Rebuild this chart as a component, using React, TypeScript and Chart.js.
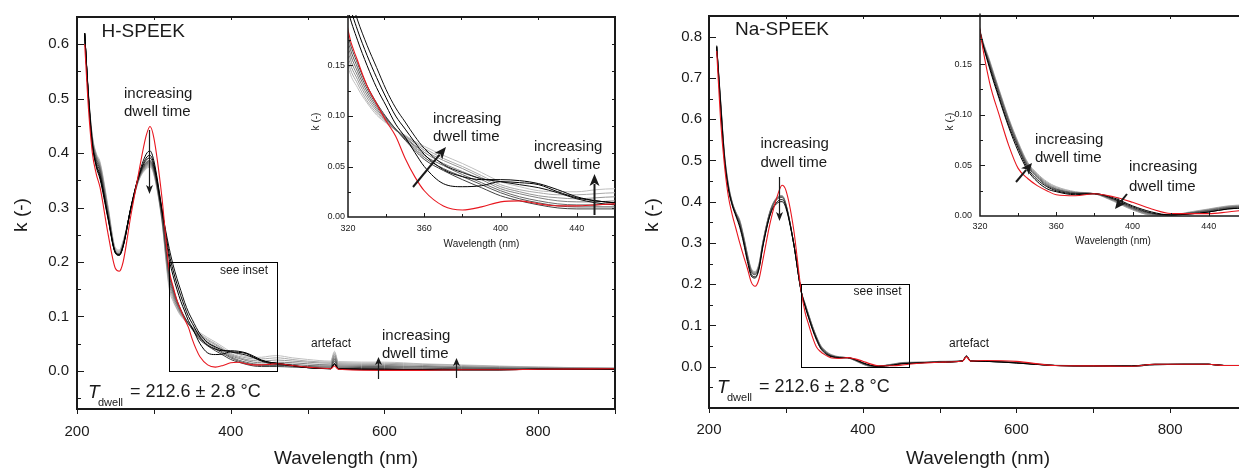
import React, { useEffect, useRef } from 'react';
import { Chart, registerables } from 'chart.js';
Chart.register(...registerables);

const FONT = "'Liberation Sans', Arial, Helvetica, sans-serif";
const INK = '#1a1a1a';
const RED = '#e8161e';

// ---------------- H-SPEEK (left panel) ----------------
const wavelengthH = [210, 215, 220, 225, 230, 240, 250, 255, 260, 270, 280, 290, 295, 300, 310, 320, 325, 330, 335, 340, 345, 350, 355, 360, 370, 380, 390, 400, 410, 420, 430, 440, 450, 460, 480, 500, 530, 535, 540, 600, 650, 700, 750, 800, 900];
const redH = [0.600, 0.480, 0.400, 0.362, 0.337, 0.255, 0.188, 0.183, 0.200, 0.285, 0.362, 0.432, 0.449, 0.428, 0.325, 0.185, 0.155, 0.130, 0.112, 0.095, 0.080, 0.058, 0.040, 0.026, 0.011, 0.007, 0.010, 0.015, 0.016, 0.013, 0.011, 0.011, 0.012, 0.013, 0.010, 0.007, 0.004, 0.009, 0.003, 0.001, 0.001, 0.002, 0.002, 0.003, 0.004];
const black1H = [0.620, 0.500, 0.415, 0.375, 0.352, 0.282, 0.216, 0.212, 0.228, 0.298, 0.358, 0.398, 0.404, 0.386, 0.302, 0.205, 0.175, 0.150, 0.128, 0.110, 0.092, 0.079, 0.064, 0.050, 0.033, 0.030, 0.031, 0.035, 0.034, 0.032, 0.025, 0.019, 0.016, 0.014, 0.010, 0.006, 0.004, 0.012, 0.003, 0.002, 0.002, 0.002, 0.002, 0.003, 0.003];
const black2H = [0.620, 0.500, 0.416, 0.378, 0.356, 0.284, 0.217, 0.213, 0.229, 0.299, 0.356, 0.391, 0.396, 0.380, 0.300, 0.215, 0.185, 0.160, 0.138, 0.118, 0.100, 0.087, 0.074, 0.062, 0.047, 0.040, 0.037, 0.037, 0.036, 0.033, 0.027, 0.020, 0.016, 0.014, 0.010, 0.006, 0.004, 0.013, 0.004, 0.003, 0.002, 0.002, 0.002, 0.003, 0.003];
const black3H = [0.620, 0.500, 0.417, 0.380, 0.360, 0.286, 0.218, 0.214, 0.230, 0.300, 0.355, 0.387, 0.391, 0.376, 0.298, 0.225, 0.195, 0.170, 0.148, 0.126, 0.108, 0.094, 0.080, 0.068, 0.052, 0.044, 0.038, 0.035, 0.032, 0.029, 0.024, 0.018, 0.014, 0.012, 0.009, 0.006, 0.004, 0.014, 0.004, 0.003, 0.002, 0.002, 0.002, 0.003, 0.003];
const grey1H = [0.620, 0.502, 0.420, 0.385, 0.365, 0.288, 0.217, 0.213, 0.230, 0.298, 0.354, 0.383, 0.386, 0.372, 0.292, 0.180, 0.152, 0.130, 0.113, 0.099, 0.087, 0.076, 0.066, 0.057, 0.046, 0.037, 0.029, 0.021, 0.016, 0.012, 0.009, 0.008, 0.008, 0.008, 0.007, 0.006, 0.005, 0.018, 0.005, 0.004, 0.003, 0.003, 0.003, 0.003, 0.003];
const grey2H = [0.620, 0.503, 0.422, 0.388, 0.369, 0.291, 0.218, 0.214, 0.231, 0.298, 0.353, 0.381, 0.384, 0.370, 0.290, 0.175, 0.148, 0.127, 0.111, 0.098, 0.087, 0.077, 0.068, 0.059, 0.048, 0.040, 0.032, 0.024, 0.018, 0.014, 0.011, 0.010, 0.010, 0.010, 0.009, 0.008, 0.007, 0.021, 0.007, 0.006, 0.005, 0.004, 0.004, 0.004, 0.003];
const grey3H = [0.620, 0.504, 0.424, 0.391, 0.372, 0.294, 0.219, 0.215, 0.232, 0.297, 0.352, 0.379, 0.382, 0.368, 0.288, 0.170, 0.144, 0.124, 0.109, 0.097, 0.087, 0.078, 0.070, 0.061, 0.051, 0.042, 0.034, 0.026, 0.020, 0.016, 0.013, 0.012, 0.012, 0.013, 0.012, 0.010, 0.009, 0.024, 0.009, 0.008, 0.007, 0.006, 0.005, 0.004, 0.004];
const grey4H = [0.620, 0.505, 0.426, 0.394, 0.375, 0.297, 0.220, 0.216, 0.233, 0.297, 0.351, 0.377, 0.380, 0.366, 0.286, 0.165, 0.140, 0.121, 0.107, 0.096, 0.086, 0.079, 0.071, 0.064, 0.053, 0.045, 0.037, 0.028, 0.023, 0.019, 0.016, 0.015, 0.015, 0.016, 0.015, 0.013, 0.011, 0.027, 0.011, 0.010, 0.008, 0.007, 0.006, 0.005, 0.004];
const grey5H = [0.620, 0.506, 0.428, 0.396, 0.378, 0.300, 0.222, 0.218, 0.235, 0.296, 0.350, 0.375, 0.378, 0.364, 0.284, 0.160, 0.136, 0.118, 0.105, 0.095, 0.086, 0.080, 0.073, 0.066, 0.056, 0.048, 0.039, 0.030, 0.025, 0.021, 0.019, 0.018, 0.019, 0.020, 0.018, 0.016, 0.014, 0.030, 0.013, 0.012, 0.010, 0.008, 0.007, 0.006, 0.005];
const grey6H = [0.620, 0.507, 0.430, 0.398, 0.381, 0.303, 0.224, 0.220, 0.237, 0.296, 0.349, 0.373, 0.376, 0.362, 0.282, 0.155, 0.132, 0.115, 0.103, 0.094, 0.086, 0.080, 0.074, 0.068, 0.058, 0.050, 0.041, 0.032, 0.027, 0.024, 0.022, 0.022, 0.023, 0.024, 0.021, 0.018, 0.016, 0.033, 0.015, 0.014, 0.012, 0.010, 0.008, 0.007, 0.005];
const grey7H = [0.620, 0.508, 0.432, 0.400, 0.384, 0.306, 0.226, 0.222, 0.239, 0.295, 0.348, 0.371, 0.374, 0.360, 0.280, 0.150, 0.128, 0.113, 0.101, 0.093, 0.086, 0.081, 0.075, 0.070, 0.061, 0.053, 0.044, 0.035, 0.030, 0.026, 0.025, 0.025, 0.027, 0.028, 0.024, 0.021, 0.018, 0.036, 0.017, 0.016, 0.013, 0.011, 0.009, 0.007, 0.005];
const greyColorsH = ['#404040', '#555555', '#6a6a6a', '#808080', '#959595', '#aaaaaa', '#bfbfbf'];

// ---------------- Na-SPEEK (right panel) ----------------
const wavelengthNa = [210, 215, 220, 225, 230, 235, 240, 245, 250, 255, 260, 265, 270, 280, 290, 295, 300, 310, 320, 325, 330, 335, 340, 345, 350, 355, 360, 370, 380, 390, 400, 410, 420, 430, 440, 450, 460, 480, 500, 530, 535, 540, 560, 600, 650, 700, 750, 780, 850, 870, 900];
const redNa = [0.765, 0.600, 0.490, 0.415, 0.370, 0.335, 0.300, 0.268, 0.238, 0.205, 0.195, 0.212, 0.258, 0.352, 0.420, 0.440, 0.428, 0.335, 0.183, 0.132, 0.100, 0.070, 0.047, 0.037, 0.030, 0.025, 0.021, 0.020, 0.022, 0.019, 0.0135, 0.007, 0.0025, 0.0023, 0.0023, 0.004, 0.006, 0.009, 0.011, 0.014, 0.024, 0.014, 0.015, 0.013, 0.003, 0.002, 0.001, 0.006, 0.006, 0.003, 0.003];
const black1Na = [0.775, 0.635, 0.505, 0.432, 0.392, 0.365, 0.338, 0.300, 0.255, 0.220, 0.215, 0.236, 0.290, 0.370, 0.398, 0.400, 0.385, 0.300, 0.182, 0.146, 0.116, 0.088, 0.064, 0.045, 0.034, 0.027, 0.024, 0.021, 0.022, 0.018, 0.010, 0.004, 0.001, 0.002, 0.004, 0.007, 0.008, 0.010, 0.011, 0.014, 0.025, 0.014, 0.013, 0.009, 0.003, 0.002, 0.002, 0.006, 0.006, 0.003, 0.003];
const black2Na = [0.776, 0.638, 0.508, 0.436, 0.395, 0.368, 0.342, 0.305, 0.260, 0.224, 0.218, 0.238, 0.292, 0.372, 0.402, 0.405, 0.390, 0.302, 0.182, 0.148, 0.118, 0.090, 0.067, 0.047, 0.036, 0.029, 0.025, 0.022, 0.022, 0.017, 0.009, 0.003, 0.001, 0.002, 0.004, 0.007, 0.008, 0.010, 0.011, 0.014, 0.025, 0.014, 0.013, 0.009, 0.003, 0.002, 0.002, 0.006, 0.006, 0.003, 0.003];
const grey1Na = [0.777, 0.642, 0.512, 0.438, 0.397, 0.370, 0.347, 0.309, 0.265, 0.229, 0.223, 0.242, 0.296, 0.376, 0.408, 0.410, 0.392, 0.300, 0.182, 0.150, 0.121, 0.093, 0.069, 0.049, 0.038, 0.030, 0.026, 0.0225, 0.022, 0.0165, 0.008, 0.0025, 0.001, 0.003, 0.005, 0.008, 0.009, 0.010, 0.012, 0.014, 0.026, 0.014, 0.013, 0.010, 0.003, 0.002, 0.001, 0.005, 0.006, 0.003, 0.003];
const grey2Na = [0.778, 0.644, 0.514, 0.440, 0.398, 0.372, 0.350, 0.312, 0.268, 0.232, 0.225, 0.244, 0.298, 0.378, 0.410, 0.412, 0.393, 0.300, 0.182, 0.151, 0.122, 0.094, 0.070, 0.050, 0.039, 0.031, 0.0265, 0.023, 0.022, 0.016, 0.0075, 0.002, 0.001, 0.003, 0.0055, 0.0085, 0.0095, 0.010, 0.012, 0.014, 0.026, 0.014, 0.013, 0.010, 0.003, 0.002, 0.001, 0.005, 0.006, 0.003, 0.003];
const grey3Na = [0.778, 0.646, 0.516, 0.442, 0.399, 0.373, 0.352, 0.314, 0.270, 0.234, 0.227, 0.246, 0.300, 0.379, 0.411, 0.413, 0.394, 0.301, 0.183, 0.152, 0.123, 0.095, 0.071, 0.051, 0.040, 0.032, 0.027, 0.023, 0.022, 0.0155, 0.007, 0.0015, 0.001, 0.003, 0.006, 0.009, 0.010, 0.011, 0.012, 0.015, 0.027, 0.015, 0.013, 0.010, 0.003, 0.002, 0.001, 0.005, 0.006, 0.003, 0.003];
const grey4Na = [0.778, 0.648, 0.518, 0.444, 0.400, 0.374, 0.354, 0.316, 0.272, 0.236, 0.229, 0.248, 0.301, 0.380, 0.412, 0.414, 0.395, 0.301, 0.183, 0.153, 0.124, 0.096, 0.072, 0.052, 0.041, 0.033, 0.028, 0.0235, 0.022, 0.015, 0.0065, 0.001, 0.001, 0.0035, 0.0065, 0.0095, 0.0105, 0.011, 0.013, 0.015, 0.027, 0.015, 0.014, 0.011, 0.003, 0.002, 0.001, 0.005, 0.006, 0.003, 0.003];
const grey5Na = [0.778, 0.650, 0.520, 0.446, 0.401, 0.375, 0.356, 0.318, 0.274, 0.238, 0.231, 0.250, 0.302, 0.381, 0.413, 0.415, 0.396, 0.302, 0.184, 0.154, 0.125, 0.097, 0.073, 0.053, 0.042, 0.034, 0.029, 0.024, 0.022, 0.0145, 0.006, 0.001, 0.001, 0.004, 0.007, 0.010, 0.011, 0.011, 0.013, 0.015, 0.027, 0.015, 0.014, 0.011, 0.004, 0.002, 0.001, 0.005, 0.006, 0.003, 0.003];
const greyColorsNa = ['#505050', '#686868', '#808080', '#989898', '#b0b0b0'];

// ---------------- tick labels ----------------
const mainXTicks = [200, 400, 600, 800];
const mainYTicksH = [0, 0.1, 0.2, 0.3, 0.4, 0.5, 0.6];
const mainYTicksNa = [0, 0.1, 0.2, 0.3, 0.4, 0.5, 0.6, 0.7, 0.8];
const insetXTicks = [320, 360, 400, 440];
const insetYTicks = [0, 0.05, 0.1, 0.15];

type Series = { data: number[]; color: string; width?: number };
type Ann =
  | { t: 'text'; x: number; y: number; s: string; size: number; align?: CanvasTextAlign; italic?: boolean; rot?: boolean }
  | { t: 'arrow'; x1: number; y1: number; x2: number; y2: number; w: number; hl: number; hw: number };

interface Spec {
  left: number; top: number; width: number; height: number;
  area: { l: number; t: number; r: number; b: number };
  kind: 'main' | 'inset';
  wl: number[];
  series: Series[];
  xMin: number; xMax: number; yMin: number; yMax: number;
  xTicks: number[]; yTicks: number[]; yDigits: number;
  tickSize: number; xPad: number; yPad: number;
  anns: Ann[];
}

const seriesH: Series[] = [
  { data: redH, color: RED, width: 1.1 },
  { data: black1H, color: '#000000' },
  { data: black2H, color: '#000000' },
  { data: black3H, color: '#111111' },
  ...[grey1H, grey2H, grey3H, grey4H, grey5H, grey6H, grey7H].map((d, i) => ({ data: d, color: greyColorsH[i] })),
];
const seriesNa: Series[] = [
  { data: redNa, color: RED, width: 1.1 },
  { data: black1Na, color: '#000000' },
  { data: black2Na, color: '#111111' },
  ...[grey1Na, grey2Na, grey3Na, grey4Na, grey5Na].map((d, i) => ({ data: d, color: greyColorsNa[i] })),
];

function drawAnn(ctx: CanvasRenderingContext2D, a: Ann, ox: number, oy: number) {
  ctx.save();
  ctx.fillStyle = INK;
  ctx.strokeStyle = INK;
  if (a.t === 'text') {
    ctx.font = `${a.italic ? 'italic ' : ''}${a.size}px ${FONT}`;
    ctx.textBaseline = 'middle';
    ctx.textAlign = a.align || 'left';
    if (a.rot) {
      ctx.translate(a.x - ox, a.y - oy);
      ctx.rotate(-Math.PI / 2);
      ctx.textAlign = 'center';
      ctx.fillText(a.s, 0, 0);
    } else {
      ctx.fillText(a.s, a.x - ox, a.y - oy);
    }
  } else {
    const x1 = a.x1 - ox, y1 = a.y1 - oy, x2 = a.x2 - ox, y2 = a.y2 - oy;
    const ang = Math.atan2(y2 - y1, x2 - x1);
    const bx = x2 - Math.cos(ang) * a.hl, by = y2 - Math.sin(ang) * a.hl;
    ctx.lineWidth = a.w;
    ctx.beginPath();
    ctx.moveTo(x1, y1);
    ctx.lineTo(bx + Math.cos(ang) * 2, by + Math.sin(ang) * 2);
    ctx.stroke();
    ctx.beginPath();
    ctx.moveTo(x2, y2);
    ctx.lineTo(bx - Math.sin(ang) * a.hw, by + Math.cos(ang) * a.hw);
    ctx.lineTo(bx + Math.cos(ang) * a.hl * 0.25, by + Math.sin(ang) * a.hl * 0.25);
    ctx.lineTo(bx + Math.sin(ang) * a.hw, by - Math.cos(ang) * a.hw);
    ctx.closePath();
    ctx.fill();
  }
  ctx.restore();
}

function buildConfig(spec: Spec): any {
  const framePlugin = {
    id: 'frameAndNotes',
    afterDraw(chart: any) {
      const ctx: CanvasRenderingContext2D = chart.ctx;
      const a = chart.chartArea;
      const xs = chart.scales.x;
      const ys = chart.scales.y;
      const px = (v: number) => Math.round(xs.getPixelForValue(v)) + 0.5;
      const py = (v: number) => Math.round(ys.getPixelForValue(v)) + 0.5;
      ctx.save();
      ctx.strokeStyle = INK;
      if (spec.kind === 'main') {
        // "see inset" box
        ctx.lineWidth = 1;
        ctx.strokeStyle = '#000';
        const bx1 = px(320), bx2 = px(460), by1 = py(0.2), by2 = py(0);
        ctx.strokeRect(bx1, by1, bx2 - bx1, by2 - by1);
        ctx.strokeStyle = INK;
        // frame
        ctx.lineWidth = 2;
        ctx.strokeRect(a.left, a.top, a.right - a.left, a.bottom - a.top);
        ctx.lineWidth = 1;
        ctx.beginPath();
        const i0 = Math.ceil(spec.yMin / 0.05 - 1e-9), i1 = Math.floor(spec.yMax / 0.05 + 1e-9);
        for (let i = i0; i <= i1; i++) {
          const y = py(i * 0.05);
          const len = i % 2 === 0 ? 7 : 4;
          ctx.moveTo(a.left, y); ctx.lineTo(a.left + len, y);
          ctx.moveTo(a.right, y); ctx.lineTo(a.right - 3, y);
        }
        for (let v = spec.xMin; v <= spec.xMax; v += 100) {
          const x = px(v);
          ctx.moveTo(x, a.bottom); ctx.lineTo(x, a.bottom + 5);
          ctx.moveTo(x, a.top); ctx.lineTo(x, a.top + 3);
        }
        ctx.stroke();
      } else {
        ctx.lineWidth = 1.5;
        ctx.beginPath();
        ctx.moveTo(a.left, a.top); ctx.lineTo(a.left, a.bottom); ctx.lineTo(a.right, a.bottom);
        ctx.stroke();
        ctx.lineWidth = 1;
        ctx.beginPath();
        for (let i = 1; i <= 7; i++) {
          const y = py(i * 0.025);
          const len = i % 2 === 0 ? 5 : 3;
          ctx.moveTo(a.left, y); ctx.lineTo(a.left + len, y);
        }
        for (let v = spec.xMin + 20; v < spec.xMax; v += 20) {
          const x = px(v);
          const len = (v - spec.xMin) % 40 === 0 ? 4 : 3;
          ctx.moveTo(x, a.bottom); ctx.lineTo(x, a.bottom - len);
        }
        ctx.stroke();
      }
      ctx.restore();
      spec.anns.forEach((n) => drawAnn(ctx, n, spec.left, spec.top));
    },
  };

  const tickFont = { family: FONT, size: spec.tickSize };
  return {
    type: 'line',
    data: {
      datasets: spec.series.map((s) => ({
        data: spec.wl.map((x, i) => ({ x, y: s.data[i] })),
        borderColor: s.color,
        borderWidth: s.width ?? 1,
        pointRadius: 0,
        fill: false,
        cubicInterpolationMode: 'monotone',
      })),
    },
    options: {
      responsive: false,
      animation: false,
      devicePixelRatio: 1,
      events: [],
      layout: {
        padding: {
          left: 0,
          top: spec.area.t - spec.top,
          right: spec.left + spec.width - spec.area.r,
          bottom: 0,
        },
      },
      plugins: { legend: { display: false }, tooltip: { enabled: false } },
      scales: {
        x: {
          type: 'linear',
          min: spec.xMin,
          max: spec.xMax,
          afterFit: (s: any) => { s.height = spec.top + spec.height - spec.area.b; },
          afterBuildTicks: (s: any) => { s.ticks = spec.xTicks.map((v) => ({ value: v })); },
          grid: { display: false, drawTicks: false },
          border: { display: false },
          ticks: {
            font: tickFont, color: INK, padding: spec.xPad, maxRotation: 0, autoSkip: false,
            callback: (v: any) => String(v),
          },
        },
        y: {
          type: 'linear',
          min: spec.yMin,
          max: spec.yMax,
          afterFit: (s: any) => { s.width = spec.area.l - spec.left; },
          afterBuildTicks: (s: any) => { s.ticks = spec.yTicks.map((v) => ({ value: v })); },
          grid: { display: false, drawTicks: false },
          border: { display: false },
          ticks: {
            font: tickFont, color: INK, padding: spec.yPad, autoSkip: false,
            callback: (v: any) => Number(v).toFixed(spec.yDigits),
          },
        },
      },
    },
    plugins: [framePlugin],
  };
}

function ChartBox({ spec }: { spec: Spec }) {
  const ref = useRef<HTMLCanvasElement | null>(null);
  useEffect(() => {
    if (!ref.current) return;
    const chart = new Chart(ref.current, buildConfig(spec));
    return () => chart.destroy();
  }, []);
  return (
    <canvas
      ref={ref}
      width={spec.width}
      height={spec.height}
      style={{ position: 'absolute', left: spec.left, top: spec.top, width: spec.width, height: spec.height }}
    />
  );
}

const twoLines = (x: number, y1: number, y2: number): Ann[] => [
  { t: 'text', x, y: y1, s: 'increasing', size: 15 },
  { t: 'text', x, y: y2, s: 'dwell time', size: 15 },
];
const tDwell = (xT: number, y: number): Ann[] => [
  { t: 'text', x: xT, y, s: 'T', size: 19, italic: true },
  { t: 'text', x: xT + 10, y: y + 10.5, s: 'dwell', size: 11 },
  { t: 'text', x: xT + 42, y, s: '= 212.6 ± 2.8 °C', size: 18 },
];

const mainLeft: Spec = {
  left: 0, top: 0, width: 630, height: 470,
  area: { l: 77, t: 15, r: 615, b: 409 },
  kind: 'main', wl: wavelengthH, series: seriesH,
  xMin: 200, xMax: 900, yMin: -0.07, yMax: 0.65,
  xTicks: mainXTicks, yTicks: mainYTicksH, yDigits: 1,
  tickSize: 15, xPad: 14, yPad: 8,
  anns: [
    { t: 'text', x: 101.5, y: 31.5, s: 'H-SPEEK', size: 19 },
    ...twoLines(124, 94, 112),
    { t: 'arrow', x1: 149.5, y1: 130, x2: 149.5, y2: 194, w: 1.2, hl: 9, hw: 3.5 },
    { t: 'text', x: 268, y: 270.5, s: 'see inset', size: 12, align: 'right' },
    { t: 'text', x: 331, y: 344, s: 'artefact', size: 12, align: 'center' },
    ...twoLines(382, 336, 354),
    { t: 'arrow', x1: 378.5, y1: 379, x2: 378.5, y2: 357, w: 1.2, hl: 8, hw: 3.5 },
    { t: 'arrow', x1: 456.5, y1: 378, x2: 456.5, y2: 358, w: 1.2, hl: 8, hw: 3.5 },
    ...tDwell(88, 392.5),
    { t: 'text', x: 21.5, y: 215, s: 'k (-)', size: 19, rot: true },
    { t: 'text', x: 346, y: 459, s: 'Wavelength (nm)', size: 19, align: 'center' },
  ],
};

const insetLeft: Spec = {
  left: 290, top: 0, width: 340, height: 260,
  area: { l: 348, t: 15, r: 615, b: 217 },
  kind: 'inset', wl: wavelengthH, series: seriesH,
  xMin: 320, xMax: 460, yMin: 0, yMax: 0.2,
  xTicks: insetXTicks, yTicks: insetYTicks, yDigits: 2,
  tickSize: 9, xPad: 6, yPad: 3,
  anns: [
    ...twoLines(433, 118.5, 136.5),
    { t: 'arrow', x1: 413, y1: 187, x2: 446, y2: 147, w: 2, hl: 12, hw: 5 },
    ...twoLines(534, 146.5, 165),
    { t: 'arrow', x1: 594.5, y1: 215, x2: 594.5, y2: 174, w: 2, hl: 12, hw: 5 },
    { t: 'text', x: 316.5, y: 121.5, s: 'k (-)', size: 10, rot: true },
    { t: 'text', x: 481.5, y: 244, s: 'Wavelength (nm)', size: 10, align: 'center' },
  ],
};

const mainRight: Spec = {
  left: 630, top: 0, width: 630, height: 470,
  area: { l: 709, t: 13, r: 1247, b: 408 },
  kind: 'main', wl: wavelengthNa, series: seriesNa,
  xMin: 200, xMax: 900, yMin: -0.1, yMax: 0.85,
  xTicks: mainXTicks, yTicks: mainYTicksNa, yDigits: 1,
  tickSize: 15, xPad: 13, yPad: 7,
  anns: [
    { t: 'text', x: 735, y: 29.5, s: 'Na-SPEEK', size: 19 },
    ...twoLines(760.5, 143.5, 162.5),
    { t: 'arrow', x1: 779.5, y1: 177, x2: 779.5, y2: 221, w: 1.2, hl: 9, hw: 3.5 },
    { t: 'text', x: 901.5, y: 292, s: 'see inset', size: 12, align: 'right' },
    { t: 'text', x: 969, y: 343.5, s: 'artefact', size: 12, align: 'center' },
    ...tDwell(717, 387.5),
    { t: 'text', x: 653, y: 215, s: 'k (-)', size: 19, rot: true },
    { t: 'text', x: 978, y: 458.5, s: 'Wavelength (nm)', size: 19, align: 'center' },
  ],
};

const insetRight: Spec = {
  left: 920, top: 0, width: 340, height: 260,
  area: { l: 980, t: 13, r: 1247, b: 216 },
  kind: 'inset', wl: wavelengthNa, series: seriesNa,
  xMin: 320, xMax: 460, yMin: 0, yMax: 0.2,
  xTicks: insetXTicks, yTicks: insetYTicks, yDigits: 2,
  tickSize: 9, xPad: 5, yPad: 8,
  anns: [
    ...twoLines(1035, 139.5, 157.5),
    { t: 'arrow', x1: 1016, y1: 182, x2: 1032, y2: 163, w: 2, hl: 11, hw: 5 },
    ...twoLines(1129, 166.5, 186.5),
    { t: 'arrow', x1: 1127, y1: 194, x2: 1115, y2: 209, w: 2, hl: 11, hw: 5 },
    { t: 'text', x: 950, y: 121.5, s: 'k (-)', size: 10, rot: true },
    { t: 'text', x: 1113, y: 241.5, s: 'Wavelength (nm)', size: 10, align: 'center' },
  ],
};

export default function App() {
  return (
    <div
      style={{
        position: 'fixed', left: 0, top: 0, width: 1239, height: 470,
        overflow: 'hidden', background: '#ffffff',
      }}
    >
      <ChartBox spec={mainLeft} />
      <ChartBox spec={insetLeft} />
      <ChartBox spec={mainRight} />
      <ChartBox spec={insetRight} />
    </div>
  );
}
